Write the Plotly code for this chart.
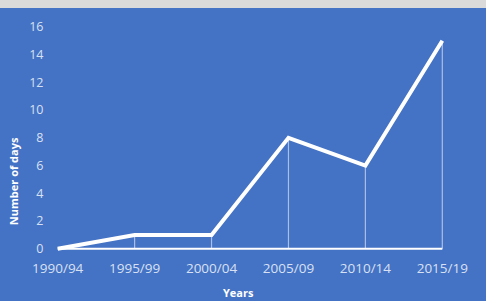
import plotly.graph_objects as go

periods = ["1990/94", "1995/99", "2000/04", "2005/09", "2010/14", "2015/19"]
days = [0, 1, 1, 8, 6, 15]
y_ticks = [0, 2, 4, 6, 8, 10, 12, 14, 16]

BLUE = "#4472c4"
TXT = "#d8e1f3"
idx = list(range(len(periods)))

fig = go.Figure()
fig.add_trace(go.Scatter(
    x=idx, y=days, mode="lines",
    line=dict(color="white", width=4),
    error_y=dict(type="data", symmetric=False, array=[0]*len(days), arrayminus=days,
                 width=0, thickness=1.2, color="rgba(255,255,255,0.55)"),
    hoverinfo="skip", showlegend=False,
))
fig.add_shape(type="line", xref="x", yref="y", x0=idx[0], x1=idx[-1], y0=0, y1=0,
              line=dict(color="white", width=2), layer="below")
fig.add_shape(type="rect", xref="paper", yref="paper", x0=-0.3, x1=1.3, y0=1.021, y1=1.2,
              fillcolor="#dadada", line=dict(width=0))

fig.add_annotation(text="<b>Number of days</b>", xref="paper", yref="y", x=-0.091, y=4.85,
                   textangle=-90, showarrow=False, xanchor="center", yanchor="middle",
                   font=dict(size=11, color="white", family="Open Sans, sans-serif"))
fig.add_annotation(text="<b>Years</b>", xref="paper", yref="paper", x=0.47, y=-0.164,
                   showarrow=False, xanchor="center", yanchor="middle",
                   font=dict(size=11, color="white", family="Open Sans, sans-serif"))

fig.update_layout(
    width=486, height=301,
    margin=dict(l=50, r=36, t=13, b=48),
    paper_bgcolor=BLUE, plot_bgcolor=BLUE,
    font=dict(family="Open Sans, sans-serif", color=TXT),
    xaxis=dict(range=[-0.1, 5.1], tickmode="array", tickvals=idx, ticktext=periods,
               showgrid=False, zeroline=False, showline=False,
               ticks="outside", ticklen=3, tickcolor=BLUE,
               tickfont=dict(size=13.5, color=TXT)),
    yaxis=dict(range=[-0.3, 17], tickmode="array", tickvals=y_ticks,
               showgrid=False, zeroline=False, showline=False,
               ticks="outside", ticklen=3, tickcolor=BLUE,
               tickfont=dict(size=12.5, color=TXT)),
)
fig.write_html("out.html", config={"displayModeBar": False},
               post_script="document.body.style.margin='0';")
